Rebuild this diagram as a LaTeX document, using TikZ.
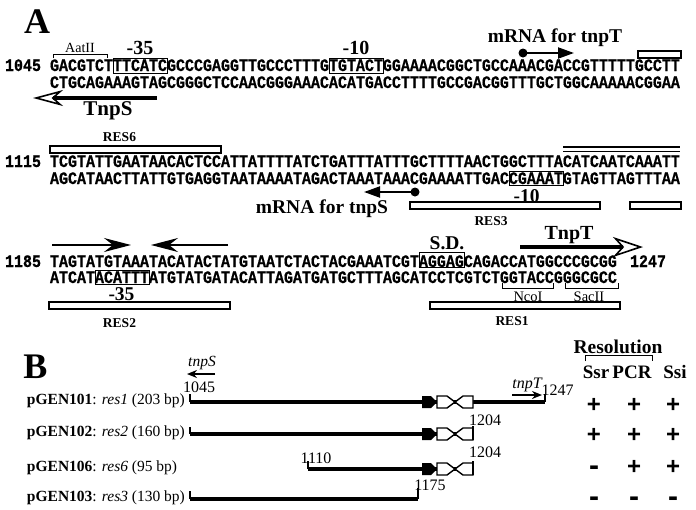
\documentclass[tikz,border=0pt]{standalone}
\usepackage{fontspec}
\setmainfont{Liberation Serif}
\newfontfamily\seqfont[FakeStretch=0.857,BoldFeatures={FakeBold=0.6}]{Liberation Mono}
\newfontfamily\signfont{Liberation Sans}
\usetikzlibrary{arrows.meta,positioning}
\tikzset{
  x=1pt,y=-1pt,
  >=Stealth,
  every node/.style={outer sep=0pt,inner sep=0pt}
}
\tikzset{strand/.style={
    anchor=base west,
    font=\seqfont\bfseries\fontsize{17.5}{17.5}\selectfont
  }}
\tikzset{tag/.style={
    anchor=base,
    font=\bfseries\fontsize{#1}{#1}\selectfont
  },
  tag/.default=20}
\tikzset{site/.style={
    anchor=base,
    font=\fontsize{#1}{#1}\selectfont
  },
  site/.default=14.5}
\tikzset{resbox/.style={
    draw,line width=1.3pt,fill=white,
    minimum width=#1,minimum height=7pt,
    anchor=north west
  },
  resbox/.default=40pt}
\tikzset{seqframe/.style={line width=0.8pt}}
\tikzset{bracket/.style={line width=0.9pt}}
\tikzset{bigarrow/.style={
    line width=4pt,
    -{Stealth[open,length=30pt,width=#1,inset=9pt,line width=1.6pt]}
  },
  bigarrow/.default=16pt}
\tikzset{mrna/.style={line width=2pt,-{Triangle[length=16pt,width=11pt]}}}
\tikzset{invrep/.style={line width=1.3pt,-{Stealth[length=27pt,width=14pt,inset=9pt]}}}
\tikzset{construct/.style={line width=3.5pt}}
\tikzset{endtick/.style={line width=2pt}}
\tikzset{genearrow/.style={line width=1.8pt,-{Stealth[length=10pt,width=8pt]}}}
\tikzset{plasmid/.style={anchor=base west,font=\fontsize{15.5}{16}\selectfont}}
\tikzset{posnum/.style={anchor=base,font=\fontsize{16}{16}\selectfont}}
\tikzset{sign/.style={font=\signfont\bfseries\fontsize{24}{24}\selectfont}}
\tikzset{minussign/.style={anchor=base,font=\signfont\bfseries\fontsize{30}{30}\selectfont}}

\begin{document}
\begin{tikzpicture}
  \useasboundingbox (0,0) rectangle (696,509);

  \node (Panel_A) [tag=36] at (37,33) {A};

  \node (Pos_1045) [strand] at (5,71) {1045};
  \node (Seq1_top) [strand] at (50,71) {GACGTCTTTCATCGCCCGAGGTTGCCCTTTGTGTACTGGAAAACGGCTGCCAAACGACCGTTTTTGCCTT};
  \node (Seq1_bot) [strand] at (50,88) {CTGCAGAAAGTAGCGGGCTCCAACGGGAAACACATGACCTTTTGCCGACGGTTTGCTGGCAAAAACGGAA};
  \draw [seqframe] ({50+9*7},58) rectangle ({50+9*13},73);
  \draw [seqframe] ({50+9*31},58) rectangle ({50+9*37},73);

  \node (AatII) [site=14] at (80,52) {AatII};
  \draw [bracket] (53,58) -- (53,54) -- (107,54) -- (107,58);
  \node (Minus35_1) [tag] at (140,54) {-35};
  \node (Minus10_1) [tag] at (356,54) {-10};

  \node (mRNA_tnpT) [tag=19.5] at (555,42) {mRNA for tnpT};
  \node (mRNA_tnpT_dot) [circle,fill,minimum size=9pt] at (523,53) {};
  \coordinate (mRNA_tnpT_end) at (574,53);
  \draw [mrna] (mRNA_tnpT_dot.center) -- (mRNA_tnpT_end);
  \node (Box_1_right) [resbox=43pt] at (638,51) {};

  \coordinate (TnpS_tail) at (157,98);
  \coordinate (TnpS_tip) at (33,98);
  \draw [bigarrow] (TnpS_tail) -- (TnpS_tip);
  \node (TnpS) [tag=21] at (108,115) {TnpS};

  \node (RES6_box) [resbox=171pt] at (50,146) {};
  \node (RES6) [tag=13.5] at (119.5,141) {RES6};
  \node (Pos_1115) [strand] at (5,167) {1115};
  \node (Seq2_top) [strand] at (50,167) {TCGTATTGAATAACACTCCATTATTTTATCTGATTTATTTGCTTTTAACTGGCTTTACATCAATCAAATT};
  \node (Seq2_bot) [strand] at (50,184) {AGCATAACTTATTGTGAGGTAATAAAATAGACTAAATAAACGAAAATTGACCGAAATGTAGTTAGTTTAA};
  \draw [line width=1.4pt] (563,147) -- (680,147) (563,151.5) -- (680,151.5);
  \draw [seqframe] ({50+9*51},171) rectangle ({50+9*57},185.5);
  \node (Minus10_2) [tag=19.5] at (526.5,202.5) {-10};

  \node (mRNA_tnpS_dot) [circle,fill,minimum size=9pt] at (415,192) {};
  \coordinate (mRNA_tnpS_end) at (364,192);
  \draw [mrna] (mRNA_tnpS_dot.center) -- (mRNA_tnpS_end);
  \node (mRNA_tnpS) [tag=19.5] at (322,213) {mRNA for tnpS};
  \node (RES3_box) [resbox=190pt] at (410,202) {};
  \node (RES3) [tag=13.5] at (491,225) {RES3};
  \node (Box_2_right) [resbox=51pt] at (630,202) {};

  \coordinate (IR_left_tail) at (52,245);
  \coordinate (IR_left_tip) at (131,245);
  \coordinate (IR_right_tail) at (228,245);
  \coordinate (IR_right_tip) at (151,245);
  \draw [invrep] (IR_left_tail) -- (IR_left_tip);
  \draw [invrep] (IR_right_tail) -- (IR_right_tip);

  \node (Pos_1185) [strand] at (5,267) {1185};
  \node (Seq3_top) [strand] at (50,267) {TAGTATGTAAATACATACTATGTAATCTACTACGAAATCGTAGGAGCAGACCATGGCCCGCGG};
  \node (Seq3_bot) [strand] at (50,283) {ATCATACATTTATGTATGATACATTAGATGATGCTTTAGCATCCTCGTCTGGTACCGGGCGCC};
  \node (Pos_1247) [strand,right=13pt of Seq3_top.base east,anchor=base west] {1247};
  \draw [seqframe] ({50+9*41},252) rectangle ({50+9*46},267);
  \draw [seqframe] ({50+9*5},270) rectangle ({50+9*11},284.5);
  \node (SD) [tag=19.5] at (447,249) {S.D.};

  \coordinate (TnpT_tail) at (520,247);
  \coordinate (TnpT_tip) at (643,247);
  \draw [bigarrow=20pt] (TnpT_tail) -- (TnpT_tip);
  \node (TnpT) [tag] at (569,239) {TnpT};

  \node (Minus35_3) [tag=19.5] at (121.5,300.5) {-35};
  \node (RES2_box) [resbox=181pt] at (49,302) {};
  \node (RES2) [tag=13.5] at (119.5,327) {RES2};

  \draw [bracket] (502,283) -- (502,288) -- (553,288) -- (553,283);
  \draw [bracket] (565,283) -- (565,288) -- (618,288) -- (618,283);
  \node (NcoI) [site] at (528,301) {NcoI};
  \node (SacII) [site] at (589,301) {SacII};
  \node (RES1_box) [resbox=190pt] at (430,302) {};
  \node (RES1) [tag=13.5] at (512,325) {RES1};

  \node (Panel_B) [tag=36] at (35.5,378) {B};

  \node (pGEN101) [plasmid] at (27,404) {\textbf{pGEN101}: \textit{res1} (203 bp)};
  \node (pGEN102) [plasmid] at (27,436) {\textbf{pGEN102}: \textit{res2} (160 bp)};
  \node (pGEN106) [plasmid] at (27,471) {\textbf{pGEN106}: \textit{res6} (95 bp)};
  \node (pGEN103) [plasmid] at (27,501) {\textbf{pGEN103}: \textit{res3} (130 bp)};

  \coordinate (Row1_start) at (190,402);
  \coordinate (Row1_end) at (545,402);
  \coordinate (Row2_start) at (190,434);
  \coordinate (Row2_end) at (473,434);
  \coordinate (Row3_start) at (308,469);
  \coordinate (Row3_end) at (473,469);
  \coordinate (Row4_start) at (190,499);
  \coordinate (Row4_end) at (418,499);
  \draw [construct] (Row1_start) -- (Row1_end);
  \draw [construct] (Row2_start) -- (Row2_end);
  \draw [construct] (Row3_start) -- (Row3_end);
  \draw [construct] (Row4_start) -- (Row4_end);
  \draw [endtick] (Row1_start) -- ++(0,-8);
  \draw [endtick] (Row1_end) -- ++(0,-8);
  \draw [endtick] (Row2_start) -- ++(0,-7);
  \draw [endtick] (Row3_start) -- ++(0,-8);
  \draw [endtick] (Row4_start) -- ++(0,-8);
  \draw [endtick] (Row4_end) -- ++(0,-11);

  \foreach \y in {402,434,469} {
    \fill (422,\y-6) -- (431,\y-6) -- (437,\y) -- (431,\y+6) -- (422,\y+6) -- cycle;
    \draw [line width=1.4pt,fill=white] (437,\y-6) -- (447,\y-6) -- (455,\y) -- (447,\y+6) -- (437,\y+6) -- cycle
      (473,\y-6) -- (463,\y-6) -- (455,\y) -- (463,\y+6) -- (473,\y+6) -- cycle;
  }
  \draw [endtick] (473,440) -- (473,426);
  \draw [endtick] (473,475) -- (473,461);

  \node (Pos_B_1045) [posnum] at (199,392) {1045};
  \node (tnpS_B) [posnum,font=\itshape\fontsize{15.5}{16}\selectfont] at (202,366) {tnpS};
  \coordinate (tnpS_B_tail) at (215,374);
  \coordinate (tnpS_B_tip) at (187,374);
  \draw [genearrow] (tnpS_B_tail) -- (tnpS_B_tip);
  \node (tnpT_B) [posnum,font=\itshape\fontsize{16}{16}\selectfont] at (527,388) {tnpT};
  \coordinate (tnpT_B_tail) at (512,395);
  \coordinate (tnpT_B_tip) at (542,395);
  \draw [genearrow] (tnpT_B_tail) -- (tnpT_B_tip);
  \node (Pos_B_1247) [posnum] at (557.5,395) {1247};
  \node (Pos_B_1204a) [posnum] at (485,425) {1204};
  \node (Pos_B_1204b) [posnum] at (485,457) {1204};
  \node (Pos_B_1110) [posnum] at (316,463) {1110};
  \node (Pos_B_1175) [posnum] at (430,490) {1175};

  \node (Resolution) [tag=19.5] at (618,353) {Resolution};
  \draw [bracket] (585,361) -- (585,355) -- (652,355) -- (652,361);
  \node (Ssr) [tag=19] at (596,378) {Ssr};
  \node (PCR) [tag=19] at (632,378) {PCR};
  \node (Ssi) [tag=19] at (675,378) {Ssi};
  \foreach \x/\y in {594/405,634/405,673/405,594/435,634/435,673/435,634/467,673/467} {
    \node [sign] at (\x,\y) {+};
  }
  \foreach \x/\y in {594/475.5,594/506,634/506,673/506} {
    \node [minussign] at (\x,\y) {-};
  }
\end{tikzpicture}
\end{document}
